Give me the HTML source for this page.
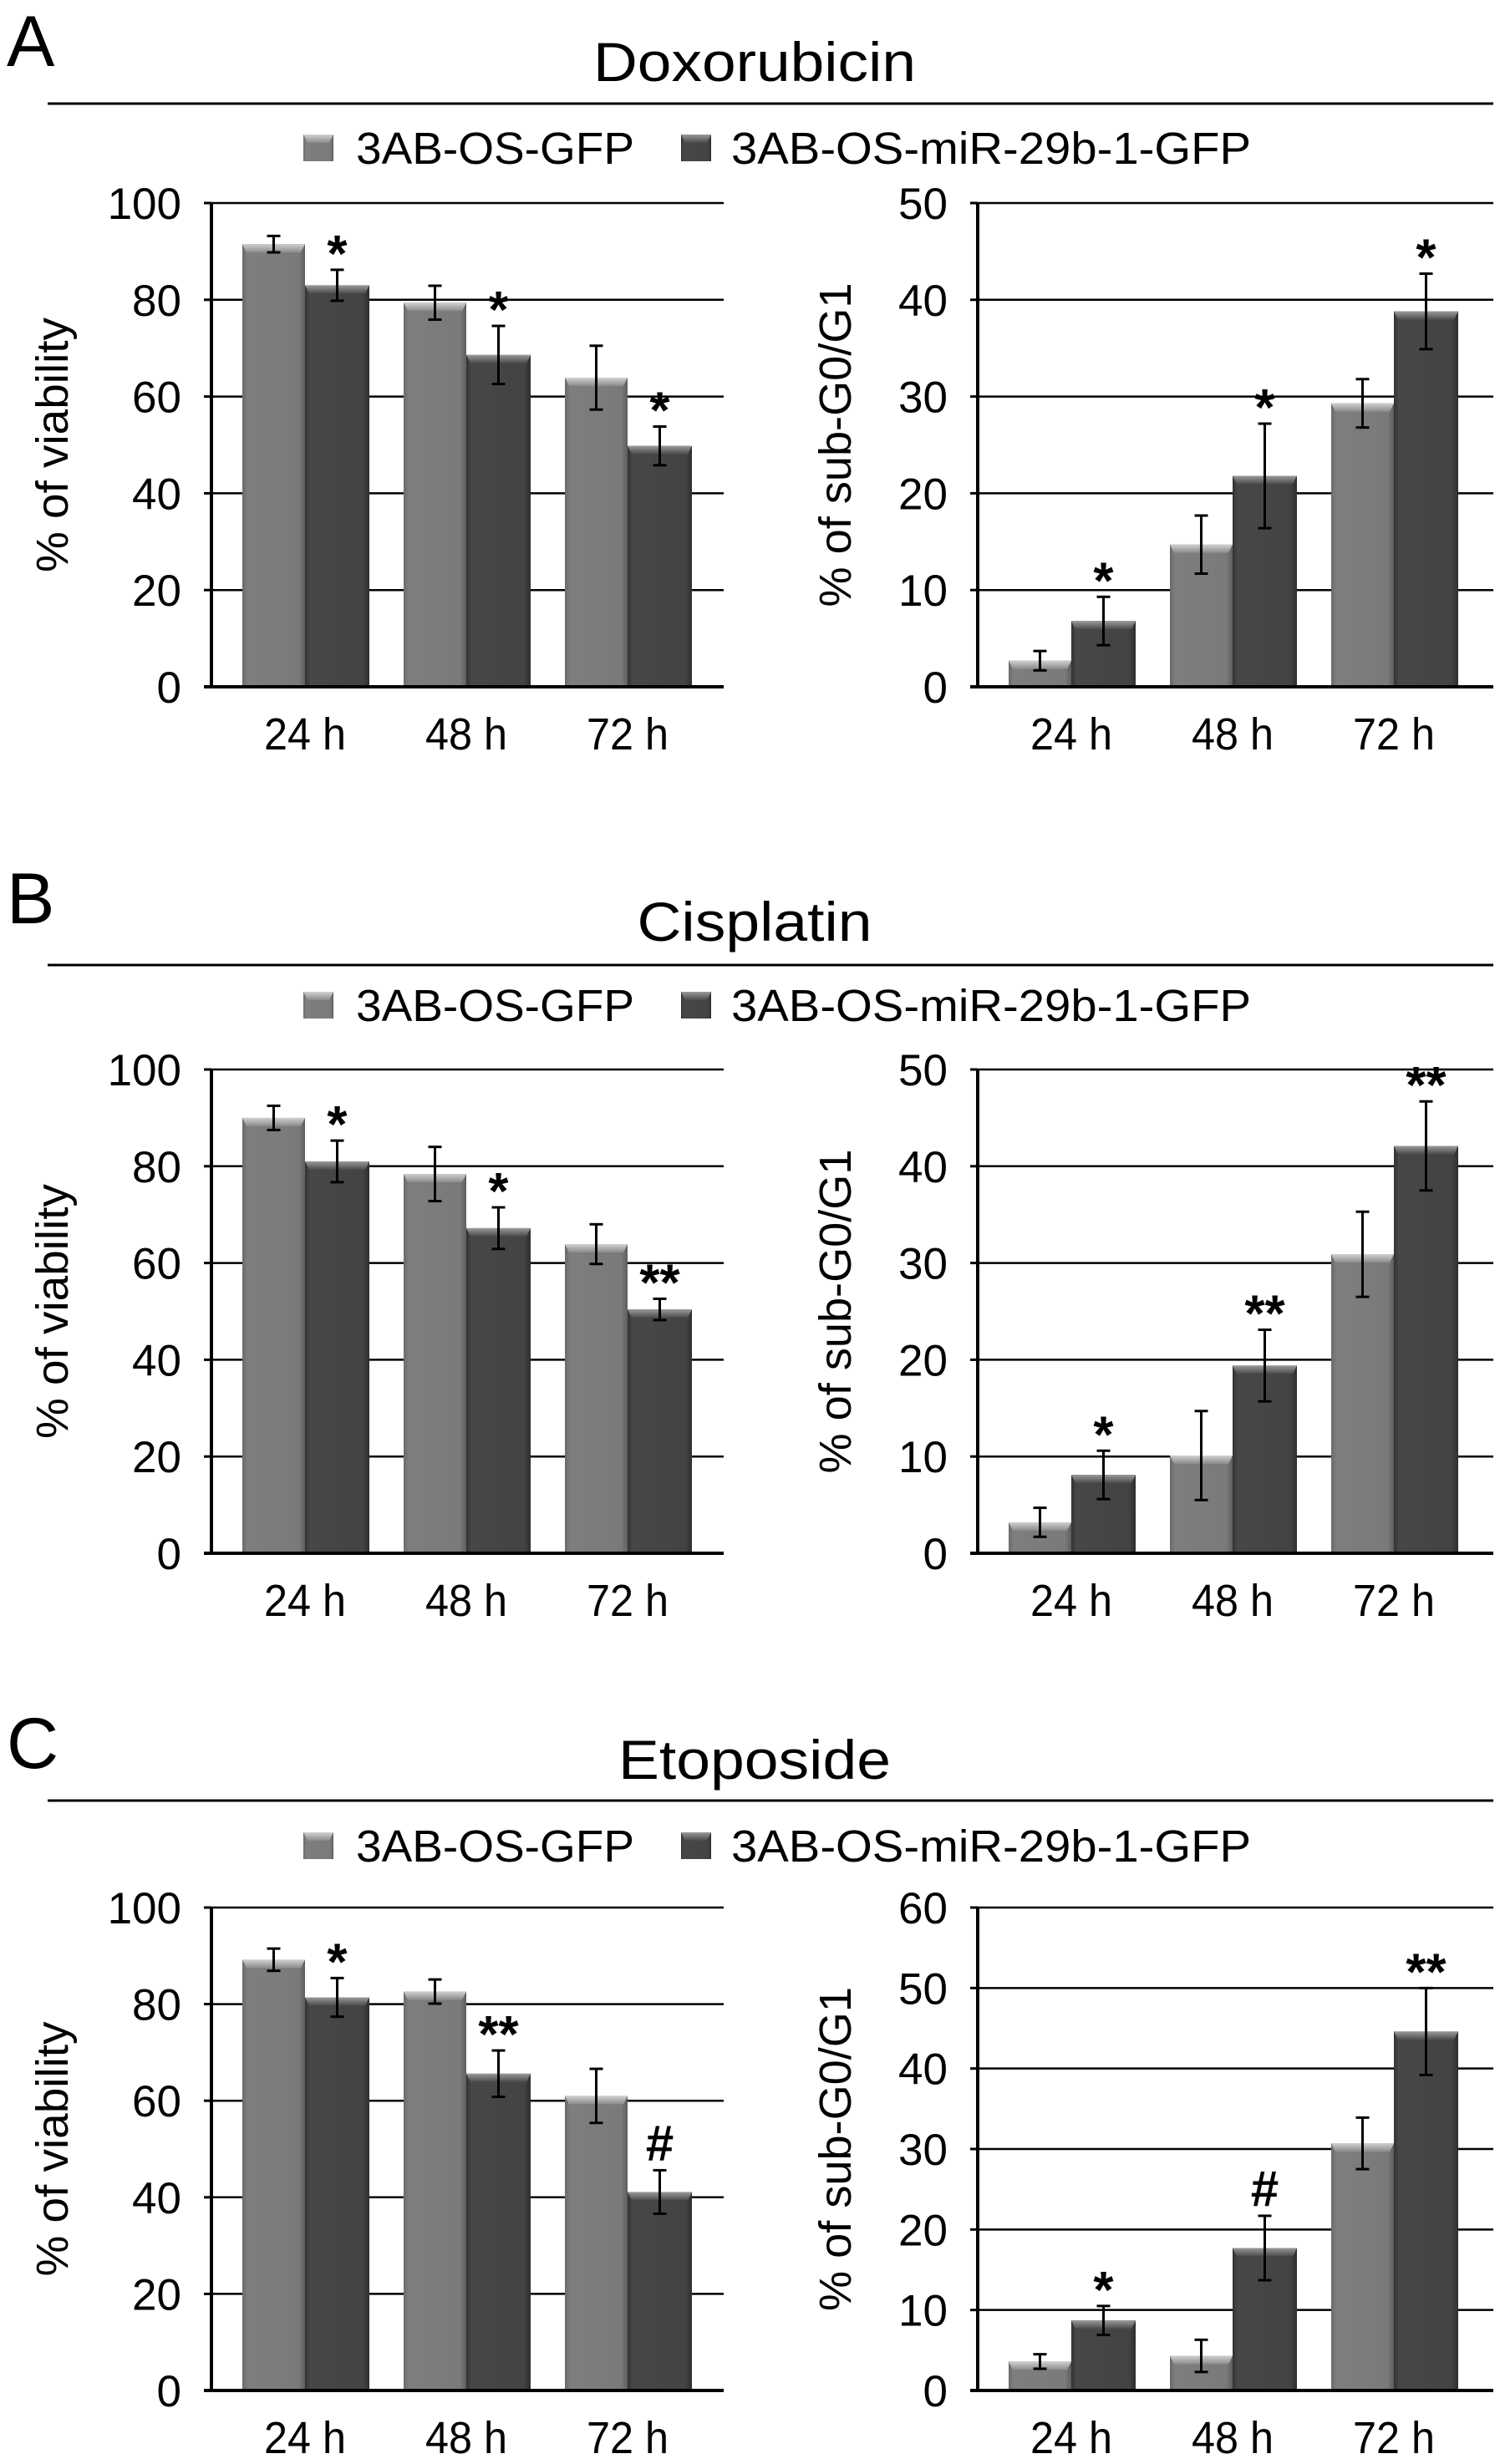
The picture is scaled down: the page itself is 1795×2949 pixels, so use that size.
<!DOCTYPE html>
<html><head><meta charset="utf-8">
<style>
html,body{margin:0;padding:0;background:#fff;}
svg{display:block;font-family:"Liberation Sans",Arial,sans-serif;}
</style></head>
<body>
<svg id="fig" width="1795" height="2949" viewBox="0 0 1795 2949" xmlns="http://www.w3.org/2000/svg">
<defs>
<linearGradient id="gGray" x1="0" x2="1" y1="0" y2="0">
<stop offset="0" stop-color="#6a6a6a"/><stop offset="0.08" stop-color="#7e7e7e"/><stop offset="0.9" stop-color="#7a7a7a"/><stop offset="1" stop-color="#5e5e5e"/>
</linearGradient>
<linearGradient id="gDark" x1="0" x2="1" y1="0" y2="0">
<stop offset="0" stop-color="#333"/><stop offset="0.08" stop-color="#474747"/><stop offset="0.9" stop-color="#434343"/><stop offset="1" stop-color="#2e2e2e"/>
</linearGradient>
<linearGradient id="capGray" x1="0" x2="0" y1="0" y2="1">
<stop offset="0" stop-color="#d0d0d0"/><stop offset="1" stop-color="#8a8a8a"/>
</linearGradient>
<linearGradient id="capDark" x1="0" x2="0" y1="0" y2="1">
<stop offset="0" stop-color="#9a9a9a"/><stop offset="1" stop-color="#4a4a4a"/>
</linearGradient>
</defs>
</svg>
<script>
// ---- data ----
const categories = ["24 h", "48 h", "72 h"];
const seriesNames = ["3AB-OS-GFP", "3AB-OS-miR-29b-1-GFP"];
const drugNames = ["Doxorubicin", "Cisplatin", "Etoposide"];
const panelLetters = ["A", "B", "C"];

const doxViabGFP = [91.5, 79.4, 63.9];
const doxViabGFPErr = [1.7, 3.5, 6.6];
const doxViabMiR = [83, 68.6, 49.8];
const doxViabMiRErr = [3.2, 6, 4];
const doxViabMarks = ["*", "*", "*"];
const doxSubGFP = [2.7, 14.7, 29.3];
const doxSubGFPErr = [1, 3, 2.5];
const doxSubMiR = [6.8, 21.8, 38.8];
const doxSubMiRErr = [2.5, 5.4, 3.9];
const doxSubMarks = ["*", "*", "*"];

const cisViabGFP = [90, 78.4, 63.9];
const cisViabGFPErr = [2.5, 5.6, 4.1];
const cisViabMiR = [81, 67.2, 50.4];
const cisViabMiRErr = [4.3, 4.3, 2.2];
const cisViabMarks = ["*", "*", "**"];
const cisSubGFP = [3.2, 10.1, 30.9];
const cisSubGFPErr = [1.5, 4.6, 4.4];
const cisSubMiR = [8.1, 19.4, 42.1];
const cisSubMiRErr = [2.5, 3.7, 4.6];
const cisSubMarks = ["*", "**", "**"];

const etoViabGFP = [89.2, 82.6, 61];
const etoViabGFPErr = [2.3, 2.5, 5.6];
const etoViabMiR = [81.4, 65.6, 41.1];
const etoViabMiRErr = [4, 4.8, 4.5];
const etoViabMarks = ["*", "**", "#"];
const etoSubGFP = [3.6, 4.3, 30.7];
const etoSubGFPErr = [0.9, 2, 3.2];
const etoSubMiR = [8.7, 17.7, 44.6];
const etoSubMiRErr = [1.8, 4, 5.4];
const etoSubMarks = ["*", "#", "**"];

const viabTicks = [0, 20, 40, 60, 80, 100];
const subTicksAB = [0, 10, 20, 30, 40, 50];
const subTicksC = [0, 10, 20, 30, 40, 50, 60];

// ---- layout ----
const NS = "http://www.w3.org/2000/svg";
const svg = document.getElementById("fig");
function mk(tag, attrs, parent, text) {
  const e = document.createElementNS(NS, tag);
  for (const k in attrs) e.setAttribute(k, attrs[k]);
  if (text !== undefined) e.textContent = text;
  (parent || svg).appendChild(e);
  return e;
}

const panels = [
  {title: 97, rule: 124, legend: 177, top: 243, bot: 822, letterY: 79, titleLen: 386,
   left: [doxViabGFP, doxViabGFPErr, doxViabMiR, doxViabMiRErr, doxViabMarks, viabTicks],
   right: [doxSubGFP, doxSubGFPErr, doxSubMiR, doxSubMiRErr, doxSubMarks, subTicksAB]},
  {title: 1126, rule: 1155, legend: 1203, top: 1280, bot: 1859, letterY: 1105, titleLen: 281,
   left: [cisViabGFP, cisViabGFPErr, cisViabMiR, cisViabMiRErr, cisViabMarks, viabTicks],
   right: [cisSubGFP, cisSubGFPErr, cisSubMiR, cisSubMiRErr, cisSubMarks, subTicksAB]},
  {title: 2129, rule: 2155, legend: 2209, top: 2283, bot: 2861, letterY: 2116, titleLen: 326,
   left: [etoViabGFP, etoViabGFPErr, etoViabMiR, etoViabMiRErr, etoViabMarks, viabTicks],
   right: [etoSubGFP, etoSubGFPErr, etoSubMiR, etoSubMiRErr, etoSubMarks, subTicksC]}
];

function drawBar(g, x, w, yTop, yBot, dark, name) {
  const bg = mk("g", {}, g);
  
  
  mk("rect", {x: x, y: yTop, width: w, height: Math.max(0, yBot - yTop), fill: dark ? "url(#gDark)" : "url(#gGray)"}, bg);
  const c = Math.min(10, (yBot - yTop));
  if (c > 0) {
    mk("polygon", {points: `${x},${yTop} ${x + w},${yTop} ${x + w - 5},${yTop + c} ${x + 5},${yTop + c}`,
      fill: dark ? "url(#capDark)" : "url(#capGray)"}, bg);
  }
}

function drawChart(p, pi, side, spec, axisX, endX, ylabel) {
  const [gv, ge, dv, de, marks, ticks] = spec;
  const maxV = ticks[ticks.length - 1];
  const y = v => p.bot - (v / maxV) * (p.bot - p.top);
  const center = i => axisX + 112 + i * 193;
  const g = mk("g", {}, svg);
  
  
  ticks.forEach(t => {
    const yy = y(t);
    if (t > 0) {
      const gl = mk("line", {x1: axisX, x2: endX, y1: yy, y2: yy, stroke: "#000", "stroke-width": 2.5}, g);
      
      
    }
    mk("line", {x1: axisX - 9, x2: axisX, y1: yy, y2: yy, stroke: "#000", "stroke-width": 3}, g);
    const tl = mk("text", {x: axisX - 36, y: yy + 19, "text-anchor": "end", "font-size": 53}, g, String(t));
    
    
  });
  categories.forEach((cat, i) => {
    const cx = center(i);
    drawBar(g, cx - 75, 75, y(gv[i]), p.bot, false, `bar-gfp-${cat.replace(' ', '')}`);
    drawBar(g, cx, 77, y(dv[i]), p.bot, true, `bar-mir-${cat.replace(' ', '')}`);
    [[cx - 37.5, gv[i], ge[i]], [cx + 38.5, dv[i], de[i]]].forEach(([ex, v, e]) => {
      const eg = mk("g", {stroke: "#000", "stroke-width": 3}, g);
      
      
      mk("line", {x1: ex, x2: ex, y1: y(v + e), y2: y(v - e)}, eg);
      mk("line", {x1: ex - 8, x2: ex + 8, y1: y(v + e), y2: y(v + e)}, eg);
      mk("line", {x1: ex - 8, x2: ex + 8, y1: y(v - e), y2: y(v - e)}, eg);
    });
    const m = marks[i];
    if (m) {
      const errTop = y(dv[i] + de[i]);
      const isHash = m === "#";
      const mt = mk("text", {x: cx + 38.5, y: isHash ? errTop - 12 : errTop + 2, "text-anchor": "middle",
        "font-size": isHash ? 60 : 62, "font-weight": "bold"}, g, m);
      
      
    }
    const xl = mk("text", {x: cx, y: p.bot + 75, "text-anchor": "middle", "font-size": 54, textLength: 98, lengthAdjust: "spacingAndGlyphs"}, g, cat);
    
    
  });
  mk("line", {x1: axisX, x2: axisX, y1: p.top, y2: p.bot, stroke: "#000", "stroke-width": 4}, g);
  mk("line", {x1: axisX - 9, x2: endX, y1: p.bot, y2: p.bot, stroke: "#000", "stroke-width": 4}, g);
  const tx = side === "left" ? 63 : 1000;
  const cy = (p.top + p.bot) / 2;
  const len = side === "left" ? 305 : 388;
  const yt = mk("text", {x: tx, y: cy, transform: `rotate(-90 ${tx} ${cy})`, "text-anchor": "middle", "dominant-baseline": "central",
    "font-size": 54, textLength: len, lengthAdjust: "spacingAndGlyphs"}, g, ylabel);
  
  
}

panels.forEach((p, pi) => {
  const lt = mk("text", {x: 8, y: p.letterY, "font-size": 86}, svg, panelLetters[pi]);
  
  
  const tt = mk("text", {x: 903, y: p.title, "text-anchor": "middle", "font-size": 66, textLength: p.titleLen, lengthAdjust: "spacingAndGlyphs"}, svg, drugNames[pi]);
  
  
  const rl = mk("line", {x1: 57, x2: 1787, y1: p.rule, y2: p.rule, stroke: "#000", "stroke-width": 3}, svg);
  
  
  const lg = mk("g", {}, svg);
  
  
  [[363, 426, 333, false], [815, 875, 622, true]].forEach(([sx, tx2, tl2, dark], k) => {
    const le = mk("g", {}, lg);
    
    
    drawBar(le, sx, 36, p.legend - 16, p.legend + 16, dark, 'legend-swatch');
    const t = mk("text", {x: tx2, y: p.legend + 19, "font-size": 54, textLength: tl2, lengthAdjust: "spacingAndGlyphs"}, le, seriesNames[k]);
    
    
  });
  drawChart(p, pi, "left", p.left, 253, 866, "% of viability");
  drawChart(p, pi, "right", p.right, 1170, 1787, "% of sub-G0/G1");
});
</script>
</body></html>
